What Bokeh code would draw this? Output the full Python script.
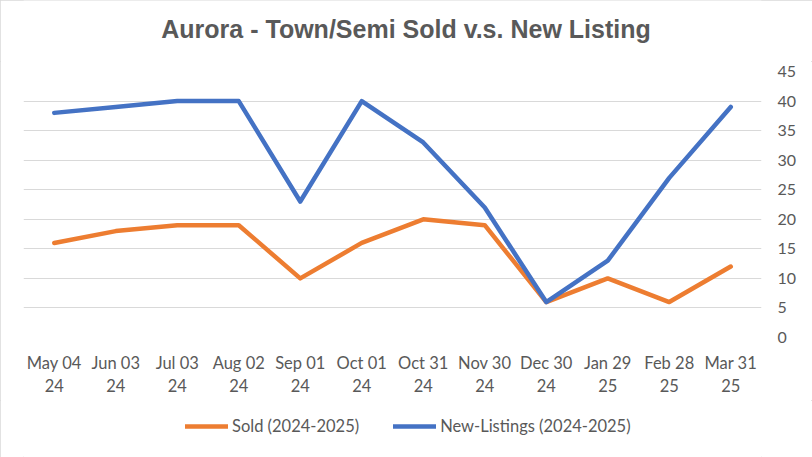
from bokeh.plotting import figure
from bokeh.layouts import column
from bokeh.models import Range1d, FixedTicker, Legend, LegendItem, Label
from bokeh.embed import file_html
from bokeh.resources import INLINE

categories = ["May 04\n24", "Jun 03\n24", "Jul 03\n24", "Aug 02\n24", "Sep 01\n24", "Oct 01\n24",
              "Oct 31\n24", "Nov 30\n24", "Dec 30\n24", "Jan 29\n25", "Feb 28\n25", "Mar 31\n25"]
sold = [16, 18, 19, 19, 10, 16, 20, 19, 6, 10, 6, 12]
new_listings = [38, 39, 40, 40, 23, 40, 33, 22, 6, 13, 27, 39]
y_ticks = [0, 5, 10, 15, 20, 25, 30, 35, 40, 45]
series_names = ["Sold (2024-2025)", "New-Listings (2024-2025)"]
series_colors = ["#ED7D31", "#4472C4"]
title_text = "Aurora - Town/Semi Sold v.s. New Listing"

TXT = "#595959"
x = list(range(len(categories)))


def strip(h, xr, yr):
    f = figure(width=812, height=h, output_backend="svg", toolbar_location=None,
               x_range=xr, y_range=yr, x_axis_location=None, y_axis_location=None,
               min_border_left=0, min_border_right=0, min_border_top=0, min_border_bottom=0)
    f.outline_line_color = None
    f.grid.grid_line_color = None
    f.background_fill_color = "white"
    f.border_fill_color = "white"
    return f


# title strip (61 px tall; frame aligned with the chart's frame, so pixel-like coordinates)
tp = strip(61, Range1d(23, 761), Range1d(0, 61))
tp.add_layout(Label(x=405.5, y=33, text=title_text, text_align="center", text_baseline="middle",
                    text_font="Liberation Sans", text_font_style="bold", text_font_size="25px",
                    text_color=TXT))

# main chart
p = figure(width=812, height=339, output_backend="svg", toolbar_location=None,
           x_range=Range1d(-0.5, len(categories) - 0.5), y_range=Range1d(0, 45),
           y_axis_location="right",
           min_border_left=23, min_border_right=51, min_border_top=10, min_border_bottom=63)
p.outline_line_color = None
p.background_fill_color = "white"
p.border_fill_color = "white"

p.xgrid.grid_line_color = None
p.ygrid.grid_line_color = "#d9d9d9"
p.ygrid.grid_line_width = 1
p.ygrid.ticker = FixedTicker(ticks=y_ticks)

ya = p.yaxis[0]
ya.ticker = FixedTicker(ticks=y_ticks)
ya.axis_line_color = None
ya.major_tick_line_color = None
ya.minor_tick_line_color = None
ya.major_label_standoff = 10
ya.major_label_text_font = "Lato"
ya.major_label_text_font_size = "16px"
ya.major_label_text_color = TXT

xa = p.xaxis[0]
xa.ticker = FixedTicker(ticks=x)
xa.major_label_overrides = {i: c for i, c in zip(x, categories)}
xa.axis_line_color = None
xa.major_tick_line_color = None
xa.minor_tick_line_color = None
xa.major_label_standoff = 9
xa.major_label_text_font = "Lato"
xa.major_label_text_font_size = "16.5px"
xa.major_label_text_color = TXT
xa.major_label_text_line_height = 1.15

r1 = p.line(x, sold, line_color=series_colors[0], line_width=4.5, line_join="round", line_cap="round")
r2 = p.line(x, new_listings, line_color=series_colors[1], line_width=4.5, line_join="round", line_cap="round")

# legend strip below the chart (series drawn off-range so only the legend shows)
lg = strip(57, Range1d(-0.5, len(categories) - 0.5), Range1d(1000, 1001))
lr = [lg.line(x, vals, line_color=c, line_width=4.5, line_cap="round")
      for vals, c in zip([sold, new_listings], series_colors)]

legend = Legend(items=[LegendItem(label=n, renderers=[r]) for n, r in zip(series_names, lr)],
                orientation="horizontal", location=(162, 21),
                glyph_width=43, glyph_height=16, label_standoff=4, spacing=34,
                border_line_color=None, background_fill_alpha=0,
                label_text_font="Lato", label_text_font_size="16.5px", label_text_color=TXT,
                padding=0, margin=0)
lg.add_layout(legend)

layout = column(tp, p, lg, spacing=0)
layout.styles = {"outline": "1px solid #d9d9d9", "outline-offset": "-1px"}

open("out.html", "w").write(file_html(layout, INLINE))
